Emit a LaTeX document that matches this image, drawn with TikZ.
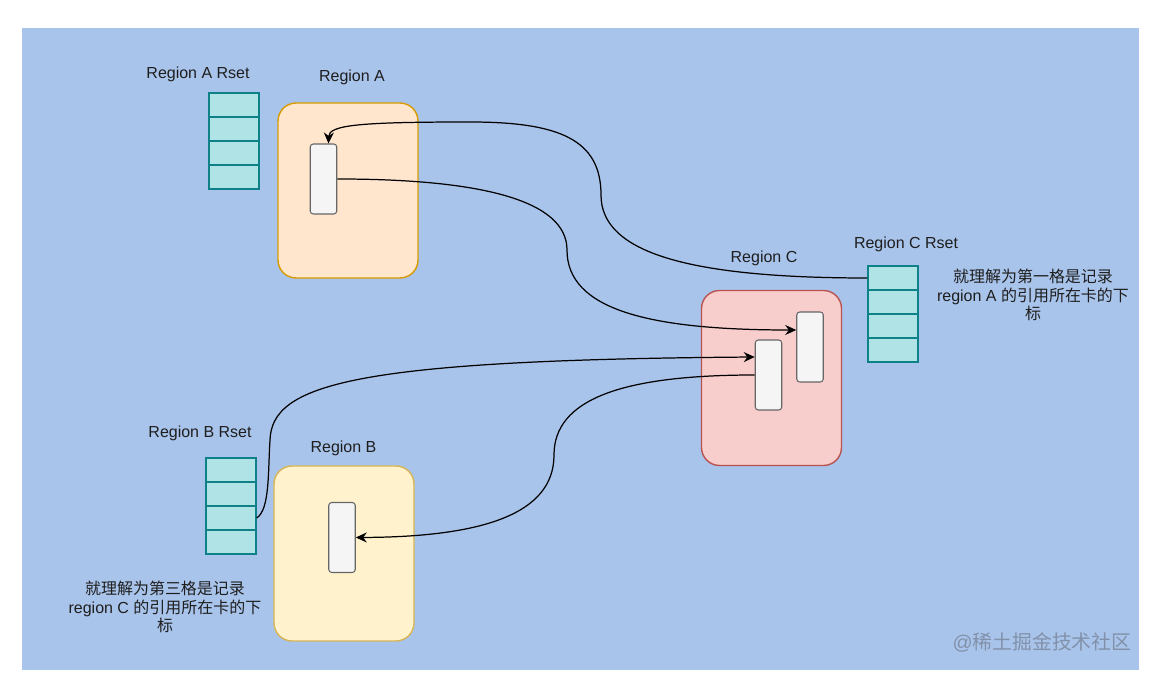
\documentclass[tikz,border=0pt]{standalone}
\usepackage{fontspec}
\usepackage{xcolor}
\setmainfont{Liberation Sans}
\newfontfamily\cjkfont{Noto Sans CJK SC}
\usetikzlibrary{
    arrows.meta
}

\definecolor{bgblue}{HTML}{A9C4EB}
\definecolor{rsetfill}{HTML}{B0E3E6}
\definecolor{rsetline}{HTML}{0E8088}
\definecolor{regAfill}{HTML}{FFE6CC}
\definecolor{regAline}{HTML}{D79B00}
\definecolor{regBfill}{HTML}{FFF2CC}
\definecolor{regBline}{HTML}{D6B656}
\definecolor{regCfill}{HTML}{F8CECC}
\definecolor{regCline}{HTML}{B85450}
\definecolor{cardfill}{HTML}{F5F5F5}
\definecolor{cardline}{HTML}{666666}
\definecolor{textgray}{HTML}{1E1E1E}
\definecolor{markgray}{RGB}{130,145,170}

\begin{document}
\begin{tikzpicture}[
    x=0.02cm,
    y=-0.02cm,
    font=\fontsize{9.1}{10.5}\selectfont,
    region/.style={
        rectangle,
        rounded corners=0.36cm,
        line width=0.8pt,
        minimum width=2.8cm,
        minimum height=3.5cm,
        inner sep=0pt
    },
    card/.style={
        rectangle,
        rounded corners=0.06cm,
        draw=cardline,
        fill=cardfill,
        line width=0.6pt,
        minimum width=0.53cm,
        minimum height=1.4cm,
        inner sep=0pt
    },
    cell/.style={
        rectangle,
        draw=rsetline,
        fill=rsetfill,
        line width=0.7pt,
        minimum width=1cm,
        minimum height=0.48cm,
        inner sep=0pt
    },
    arrow/.style={
        -{Stealth[length=2.2mm,width=2mm]},
        line width=0.7pt,
        draw=black
    },
    caption/.style={
        text=textgray,
        inner sep=0pt
    },
    note/.style={
        font=\fontsize{9.1}{10.5}\selectfont,
        align=center,
        text=textgray,
        inner sep=0pt
    }
]

% =========================================================
% Canvas
% =========================================================
\fill[white] (0,0) rectangle (1159,688);
\useasboundingbox (0,0) rectangle (1159,688);
\fill[bgblue] (22,28) rectangle (1139,670);

% =========================================================
% Regions
% =========================================================
\node[region, draw=regAline, fill=regAfill] (regionA) at (348,190.5) {};
\node[region, draw=regBline, fill=regBfill] (regionB) at (344,553.5) {};
\node[region, draw=regCline, fill=regCfill] (regionC) at (771.5,378) {};

\node[caption] (labelA) at (352,77) {Region A};
\node[caption] (labelB) at (343.5,448) {Region B};
\node[caption] (labelC) at (764,258) {Region C};

% =========================================================
% Cards
% =========================================================
\node[card] (cardA) at (323.5,179) {};
\node[card] (cardB) at (342,537.5) {};
\node[card] (cardC1) at (810,347) {};
\node[card] (cardC2) at (768.5,375) {};

% =========================================================
% Remembered sets
% =========================================================
\foreach \i in {1,...,4} {
    \node[cell] (rsetA-\i) at (234,81+24*\i) {};
    \node[cell] (rsetB-\i) at (231,446+24*\i) {};
    \node[cell] (rsetC-\i) at (893,254+24*\i) {};
}

\node[caption] (labelRsetA) at (198,74) {Region A Rset};
\node[caption] (labelRsetB) at (200,433) {Region B Rset};
\node[caption] (labelRsetC) at (906,244) {Region C Rset};

% =========================================================
% Notes
% =========================================================
\node[note] (noteC) at (1033,295)
{{\cjkfont 就理解为第一格是记录}\\region A {\cjkfont 的引用所在卡的下}\\{\cjkfont 标}};

\node[note] (noteB) at (165,607)
{{\cjkfont 就理解为第三格是记录}\\region C {\cjkfont 的引用所在卡的下}\\{\cjkfont 标}};

% =========================================================
% References
% =========================================================
\draw[arrow] (rsetC-1.west)
    .. controls (680,278) and (601,250) .. (601,195)
    .. controls (601,140) and (560,122) .. (470,122)
    .. controls (360,122) and (329,125) .. ([xshift=0.1cm]cardA.north);

\draw[arrow] (cardA.east)
    .. controls (480,179) and (567,200) .. (567,250)
    .. controls (567,310) and (650,330) .. ([yshift=0.34cm]cardC1.west);

\draw[arrow] (rsetB-3.east)
    .. controls (270,510) and (268,470) .. (270,440)
    .. controls (272,385) and (350,360) .. ([yshift=0.36cm]cardC2.west);

\draw[arrow] (cardC2.west)
    .. controls (620,375) and (554,400) .. (554,455)
    .. controls (554,515) and (480,537) .. (cardB.east);

% =========================================================
% Watermark
% =========================================================
\node[text=markgray, inner sep=0pt, font=\fontsize{11.3}{13}\selectfont] (mark) at (1042,642)
{@{\cjkfont 稀土掘金技术社区}};

\end{tikzpicture}
\end{document}
